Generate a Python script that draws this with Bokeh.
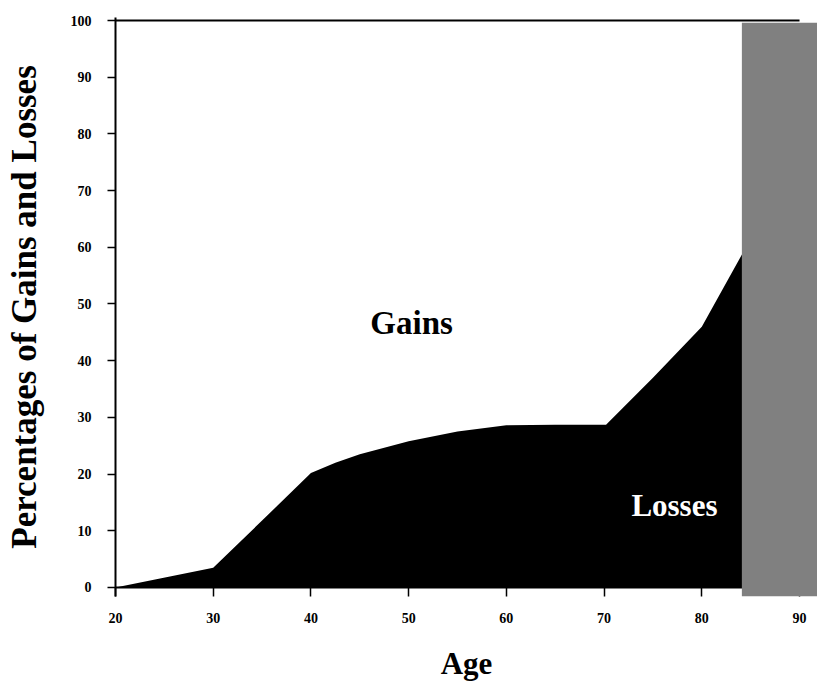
from bokeh.plotting import figure
from bokeh.models import Range1d, FixedTicker, BoxAnnotation
from bokeh.core.properties import value
from bokeh.embed import file_html
from bokeh.resources import INLINE

# Data
ages = [20, 30, 35, 40, 42.5, 45, 50, 55, 60, 65, 70.2, 75, 80, 85]
losses = [0, 3.5, 11.8, 20.2, 22.0, 23.5, 25.8, 27.5, 28.6, 28.7, 28.7, 37.0, 46.0, 61.5]
x_ticks = [20, 30, 40, 50, 60, 70, 80, 90]
y_ticks = [0, 10, 20, 30, 40, 50, 60, 70, 80, 90, 100]
mask_x = [84.1, 92.0]
mask_y = [-1.6, 99.6]
gains_label = "Gains"
losses_label = "Losses"

FONT = "Liberation Serif"

p = figure(width=817, height=684, output_backend="svg", toolbar_location=None,
           x_range=Range1d(20, 91.84), y_range=Range1d(-1.59, 100.53),
           min_border_left=115, min_border_right=0, min_border_top=17, min_border_bottom=88)
p.background_fill_color = "white"
p.border_fill_color = "white"
p.outline_line_color = None
p.grid.visible = False

# losses area
p.varea(x=ages, y1=[0] * len(ages), y2=losses, fill_color="black")

# baseline (x axis line at 0) and top border line
p.line(x=[x_ticks[0], mask_x[1]], y=[0, 0], line_color="black", line_width=2)
p.line(x=[x_ticks[0], x_ticks[-1]], y=[y_ticks[-1], y_ticks[-1]], line_color="black", line_width=2)

# labels
p.text(x=[50.3], y=[46.6], text=[gains_label], text_font=value(FONT), text_font_style="bold",
       text_font_size="33px", text_align="center", text_baseline="middle", text_color="black")
p.text(x=[77.2], y=[14.4], text=[losses_label], text_font=value(FONT), text_font_style="bold",
       text_font_size="31px", text_align="center", text_baseline="middle", text_color="white")

# gray mask on the right (drawn above the axes)
p.add_layout(BoxAnnotation(left=mask_x[0], right=mask_x[1], bottom=mask_y[0], top=mask_y[1],
                           fill_color="#808080", fill_alpha=1.0, line_color=None))

xa = p.xaxis[0]
xa.ticker = FixedTicker(ticks=x_ticks)
xa.axis_label = "Age"
ya = p.yaxis[0]
ya.ticker = FixedTicker(ticks=y_ticks)
ya.axis_label = "Percentages of Gains and Losses"

for ax in (xa, ya):
    ax.axis_line_color = "black"
    ax.axis_line_width = 2
    ax.major_tick_line_color = "black"
    ax.major_tick_line_width = 1.5
    ax.minor_tick_line_color = None
    ax.major_label_text_font = FONT
    ax.major_label_text_font_style = "bold"
    ax.major_label_text_font_size = "14px"
    ax.major_label_text_color = "black"
    ax.axis_label_text_font = FONT
    ax.axis_label_text_font_style = "bold"
    ax.axis_label_text_color = "black"

xa.axis_line_color = None
xa.major_tick_in = 9
xa.major_tick_out = 0
xa.major_label_standoff = 16
xa.axis_label_text_font_size = "31px"
xa.axis_label_standoff = 20
ya.major_tick_in = 0
ya.major_tick_out = 8
ya.major_label_standoff = 16
ya.axis_label_text_font_size = "35px"
ya.axis_label_standoff = 24

open("out.html", "w").write(file_html(p, INLINE))
